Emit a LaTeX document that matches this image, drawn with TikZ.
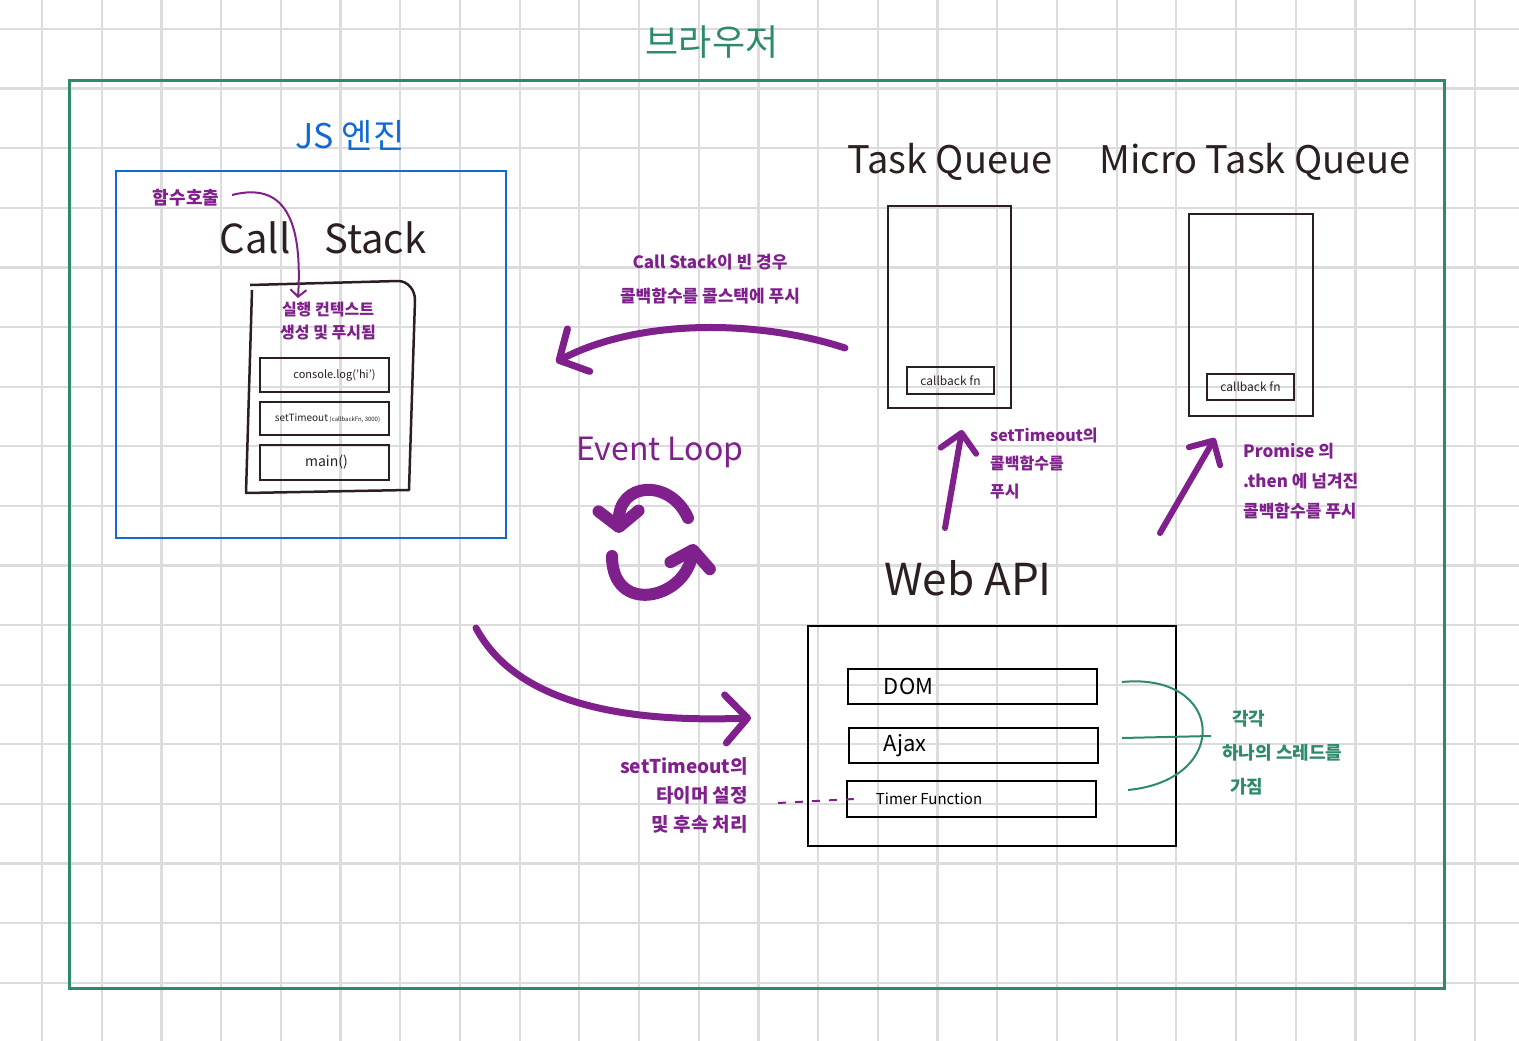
\documentclass[tikz,border=0pt]{standalone}
\usepackage{fontspec}
\setmainfont{Noto Sans CJK KR}
\usetikzlibrary{arrows.meta}
\definecolor{gridgray}{HTML}{DCDCDC}
\definecolor{browsergreen}{HTML}{2E8B68}
\definecolor{engineblue}{HTML}{1269D3}
\definecolor{loopviolet}{HTML}{80208C}
\definecolor{inkdark}{HTML}{2B1F1F}
\newcommand\fsz[2]{\fontsize{#1}{#2}\selectfont}
\tikzset{
  gridline/.style={draw=gridgray, line width=2.2},
  browserbox/.style={draw=browsergreen, line width=3},
  enginebox/.style={draw=engineblue, line width=2.5},
  queuebox/.style={draw=inkdark, line width=2},
  framebox/.style={draw=inkdark, line width=1.5},
  apibox/.style={draw=black, line width=2.5},
  heading/.style={text=inkdark, font=\fsz{38}{44}},
  note/.style={text=loopviolet, align=center},
  bigarrow/.style={draw=loopviolet, line width=7, line cap=round, -{Straight Barb[round, length=22pt, width=48pt]}},
  uparrow/.style={draw=loopviolet, line width=6, line cap=round, -{Straight Barb[round, length=18pt, width=36pt]}},
  looparrow/.style={draw=loopviolet, line width=12, line cap=round, -{Straight Barb[round, length=16pt, width=40pt]}}
}
\begin{document}
\begin{tikzpicture}[x=1pt, y=-1pt, every node/.style={inner sep=0pt}]
\useasboundingbox (0,0) rectangle (1519,1041);
\fill[white] (0,0) rectangle (1519,1041);
\foreach \i in {0,...,24} \draw[gridline] ({42+59.7*\i},0) -- ({42+59.7*\i},1041);
\foreach \j in {0,...,17} \draw[gridline] (0,{29+59.6*\j}) -- (1519,{29+59.6*\j});

\node[browserbox, minimum width=1375, minimum height=907] (browser) at (756.5,534.5) {};
\node[text=browsergreen, font=\fsz{36}{40}] (browsertitle) at (712,42) {브라우저};

\node[enginebox, minimum width=390, minimum height=367] (engine) at (311,354.5) {};
\node[text=engineblue, font=\fsz{34}{40}] (enginetitle) at (350,135) {JS 엔진};
\node[heading, font=\fsz{40}{44}] (callstack) at (323,238) {Call\hspace{34pt}Stack};
\node[note, font=\fsz{18}{20}\bfseries] (callfn) at (186,198) {함수호출};

\draw[inkdark, line width=2.5, line join=round] (250,285) -- (398,281) to[out=0, in=90] (415,300) -- (409,490) -- (246,493) -- (252,290);
\node[note, font=\fsz{16}{23}\bfseries] (pushnote) at (328,321) {실행 컨텍스트\\생성 및 푸시됨};
\node[framebox, minimum width=129, minimum height=34] (logframe) at (324.5,375) {};
\node[text=inkdark, font=\fsz{11}{12}] at ([xshift=10]logframe.center) {console.log('hi')};
\node[framebox, minimum width=129, minimum height=33] (timeoutframe) at (324.5,418.5) {};
\node[text=inkdark, font=\fsz{10}{12}] at ([xshift=3]timeoutframe.center) {setTimeout\,{\fsz{6}{7}(callbackFn, 3000)}};
\node[framebox, minimum width=129, minimum height=35] (mainframe) at (324.5,462.5) {};
\node[text=inkdark, font=\fsz{14}{16}] at ([xshift=2]mainframe.center) {main()};

\coordinate (callstart) at (232,195);
\coordinate (calltip) at (298,298);
\draw[loopviolet, line width=2, -{Straight Barb[length=7pt, width=16pt]}] (callstart) .. controls (290,180) and (302,230) .. (calltip);

\node[heading] (taskqtitle) at (950,162) {Task Queue};
\node[heading] (microqtitle) at (1255,162) {Micro Task Queue};
\node[queuebox, minimum width=123, minimum height=202] (taskq) at (949.5,307) {};
\node[framebox, minimum width=87, minimum height=27] (taskcb) at (950.5,380.5) {};
\node[text=inkdark, font=\fsz{12}{14}] at (taskcb.center) {callback fn};
\node[queuebox, minimum width=124, minimum height=202] (microq) at (1251,315) {};
\node[framebox, minimum width=87, minimum height=26] (microcb) at (1250.5,387) {};
\node[text=inkdark, font=\fsz{12}{14}] at (microcb.center) {callback fn};

\node[note, font=\fsz{17}{34}\bfseries] (emptynote) at (710,279) {Call Stack이 빈 경우\\콜백함수를 콜스택에 푸시};
\coordinate (pullstart) at (845,348);
\coordinate (pulltip) at (556,362);
\draw[bigarrow] (pullstart) .. controls (760,320) and (640,318) .. (pulltip);

\node[note, font=\fsz{32}{36}] (looptitle) at (660,452) {Event Loop};
\coordinate (loopa) at (688,518);
\coordinate (loopb) at (619,533);
\coordinate (loopc) at (612,556);
\coordinate (loopd) at (694,544);
\draw[looparrow] (loopa) .. controls (670,478) and (618,482) .. (loopb);
\draw[looparrow] (loopc) .. controls (612,615) and (684,600) .. (loopd);

\node[heading, font=\fsz{44}{48}] (webapititle) at (968,578) {Web API};
\node[apibox, minimum width=368, minimum height=220] (webapi) at (992,736) {};
\node[apibox, minimum width=249, minimum height=35] (dom) at (972.5,686.5) {};
\node[text=black, font=\fsz{22}{24}, anchor=west] at ([xshift=37]dom.west) {DOM};
\node[apibox, minimum width=249, minimum height=35] (ajax) at (973.5,745.5) {};
\node[text=black, font=\fsz{22}{24}, anchor=west] at ([xshift=36]ajax.west) {Ajax};
\node[apibox, minimum width=249, minimum height=36] (timer) at (971.5,799) {};
\node[text=black, font=\fsz{15}{18}, anchor=west] at ([xshift=30]timer.west) {Timer Function};

\node[note, font=\fsz{16}{28}\bfseries, align=left, anchor=north west] (taskpush) at (990,428) {setTimeout의\\콜백함수를\\푸시};
\node[note, font=\fsz{17}{30}\bfseries, align=left, anchor=north west] (micropush) at (1243,443) {Promise 의\\.then 에 넘겨진\\콜백함수를 푸시};
\coordinate (taskup) at (945,528);
\coordinate (taskuptip) at (962,430);
\coordinate (microup) at (1160,533);
\coordinate (microuptip) at (1215,438);
\draw[uparrow] (taskup) -- (taskuptip);
\draw[uparrow] (microup) -- (microuptip);

\coordinate (sendstart) at (476,628);
\coordinate (sendtip) at (751,718);
\draw[bigarrow] (sendstart) .. controls (520,710) and (640,722) .. (sendtip);
\node[note, font=\fsz{19}{29}\bfseries, align=right, anchor=north east] (timernote) at (748,757) {setTimeout의\\타이머 설정\\및 후속 처리};
\coordinate (dashstart) at (778,803);
\draw[loopviolet, line width=2, dash pattern=on 8pt off 9pt] (dashstart) -- ([xshift=8]timer.west);

\coordinate (bracetop) at (1122,682);
\coordinate (bracemid) at (1122,738);
\coordinate (bracebot) at (1128,790);
\draw[browsergreen, line width=2] (bracetop) .. controls (1225,672) and (1232,780) .. (bracebot);
\draw[browsergreen, line width=2] (bracemid) -- (1211,736);
\node[text=browsergreen, font=\fsz{18}{34}\bfseries, align=left, anchor=north west] (threadnote) at (1222,710) {\hspace*{10pt}각각\\하나의 스레드를\\\hspace*{8pt}가짐};
\end{tikzpicture}
\end{document}
